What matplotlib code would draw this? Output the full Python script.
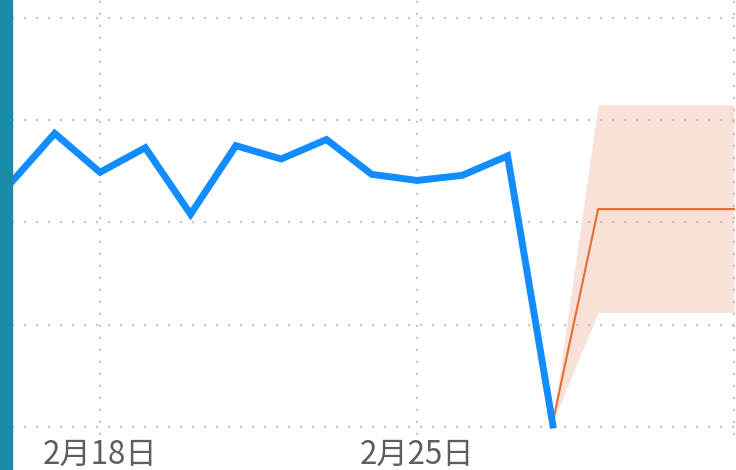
import numpy as np
import pandas as pd
from matplotlib import pyplot as plt
from matplotlib.patches import Rectangle

plt.rcParams['font.family'] = ['Noto Sans CJK SC', 'DejaVu Sans']

# actual values, one per day
dates = pd.date_range('2019-02-16', '2019-02-28', freq='D')
values = [2.37, 2.87, 2.49, 2.73, 2.08, 2.75, 2.62, 2.81, 2.47, 2.41, 2.46, 2.65, 0.02]

# forecast with confidence band
fc_dates = pd.date_range('2019-02-28', '2019-03-04', freq='D')
fc_values = [0.05, 2.13, 2.13, 2.13, 2.13]
fc_upper = [0.05, 3.15, 3.15, 3.15, 3.15]
fc_lower = [0.05, 1.12, 1.12, 1.12, 1.12]

tick_dates = pd.to_datetime(['2019-02-18', '2019-02-25', '2019-03-04'])
tick_labels = ['2月18日', '2月25日', '']

fig = plt.figure(figsize=(7.36, 4.70), dpi=100)
ax = fig.add_axes([0, 35 / 470, 1, 435 / 470])

ax.fill_between(fc_dates, fc_lower, fc_upper, color='#E66C37', alpha=0.2, lw=0, zorder=1)
ax.plot(fc_dates, fc_values, color='#E66C37', lw=1.5, zorder=3)
ax.plot(dates, values, color='#118DFF', lw=5, solid_joinstyle='miter', zorder=4)

day0 = pd.Timestamp('2019-02-18')
px_per_day = 317 / 7
ax.set_xlim(day0 - pd.Timedelta(days=100 / px_per_day),
            day0 + pd.Timedelta(days=636 / px_per_day))
ax.set_ylim(-8 / 102.3, 427 / 102.3)

ax.set_yticks([0, 1, 2, 3, 4])
ax.set_xticks(tick_dates)
ax.set_xticklabels(tick_labels, fontsize=22.5, color='#605E5C')
ax.tick_params(length=0, labelleft=False, pad=3)
ax.grid(True, color='#C8C6C4', lw=1.6, linestyle=(0, (1.0, 4.4)),
        dash_capstyle='butt', zorder=2)
ax.set_axisbelow(False)
for s in ax.spines.values():
    s.set_visible(False)

# teal strip on the left edge
fig.add_artist(Rectangle((0, 0), 12 / 736, 1, transform=fig.transFigure,
                         color='#1B8CA8', zorder=10))

fig.savefig('out.png', dpi=100)
